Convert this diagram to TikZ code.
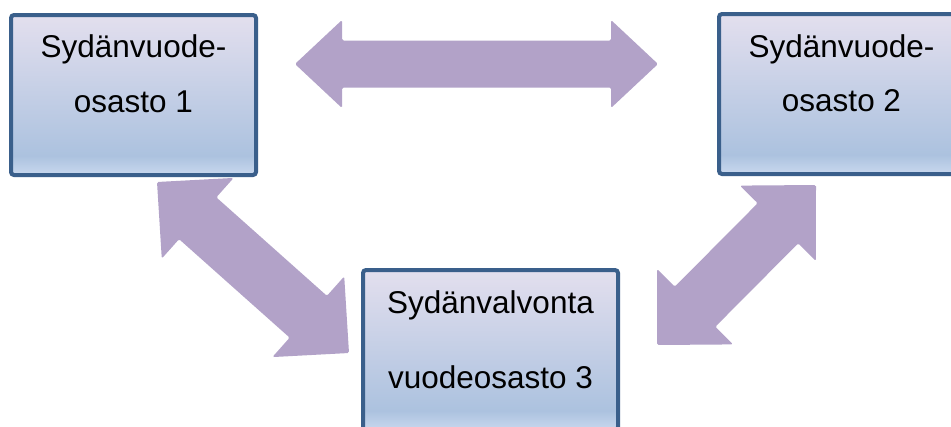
\documentclass[tikz,border=0pt]{standalone}
\usepackage{fontspec}
\setmainfont{Liberation Sans}
\usetikzlibrary{calc}
\definecolor{boxtop}{HTML}{E3DFEE}
\definecolor{boxmid}{HTML}{ACC2DF}
\definecolor{boxbot}{HTML}{C9D8EE}
\definecolor{boxedge}{HTML}{3A5F8B}
\definecolor{arrowcol}{HTML}{B2A2C8}
\pgfdeclareverticalshading{boxshade}{100bp}{color(0bp)=(boxbot); color(25bp)=(boxbot); color(31bp)=(boxmid); color(75bp)=(boxtop); color(100bp)=(boxtop)}
\tikzset{
  boxst/.style={draw=boxedge, line width=4pt, rounded corners=3pt, shade, shading=boxshade, minimum width=245pt, minimum height=160pt, inner sep=0pt},
  lbl/.style={anchor=base, inner sep=0pt, font=\fontsize{31.5pt}{37pt}\selectfont, text=black},
  arrowst/.style={fill=arrowcol, rounded corners=1.5pt}
}
% block arrow between named coordinates #1 and #2: head length #3, head half-width #4, shaft half-width #5
\newcommand{\blockarrow}[5]{%
  \coordinate (#1-p) at ($(#1)!#3!(#2)$);
  \coordinate (#2-p) at ($(#2)!#3!(#1)$);
  \fill[arrowst] (#1) -- ($(#1-p)!#4!90:(#2)$) -- ($(#1-p)!#5!90:(#2)$)
    -- ($(#2-p)!#5!-90:(#1)$) -- ($(#2-p)!#4!-90:(#1)$) -- (#2)
    -- ($(#2-p)!#4!90:(#1)$) -- ($(#2-p)!#5!90:(#1)$)
    -- ($(#1-p)!#5!-90:(#2)$) -- ($(#1-p)!#4!-90:(#2)$) -- cycle;
}
\begin{document}
\begin{tikzpicture}[x=1pt, y=-1pt]
\clip (0,0) rectangle (951,426);
\fill[white] (0,0) rectangle (951,426);
% boxes
\node[boxst] (box1) at (133.5,95) {};
\node[boxst] (box2) at (841.5,94) {};
\node[boxst, minimum width=255pt] (box3) at (490.5,350) {};
% labels
\node[lbl] (t1a) at (133.5,57) {Sydänvuode-};
\node[lbl] (t1b) at (133.5,112) {osasto 1};
\node[lbl] (t2a) at (841.5,57) {Sydänvuode-};
\node[lbl] (t2b) at (841.5,111) {osasto 2};
\node[lbl] (t3a) at (490.5,313) {Sydänvalvonta};
\node[lbl] (t3b) at (490.5,388) {vuodeosasto 3};
% arrow end points
\coordinate (h1) at (295,64);
\coordinate (h2) at (658,64);
\coordinate (d1a) at (157,182);
\coordinate (d1b) at (349,353);
\coordinate (d2a) at (816,185);
\coordinate (d2b) at (657,345);
\blockarrow{h1}{h2}{47pt}{44pt}{23.5pt}
\blockarrow{d1a}{d1b}{54.5pt}{54pt}{28pt}
\blockarrow{d2a}{d2b}{54pt}{53.5pt}{28.5pt}
\end{tikzpicture}
\end{document}
